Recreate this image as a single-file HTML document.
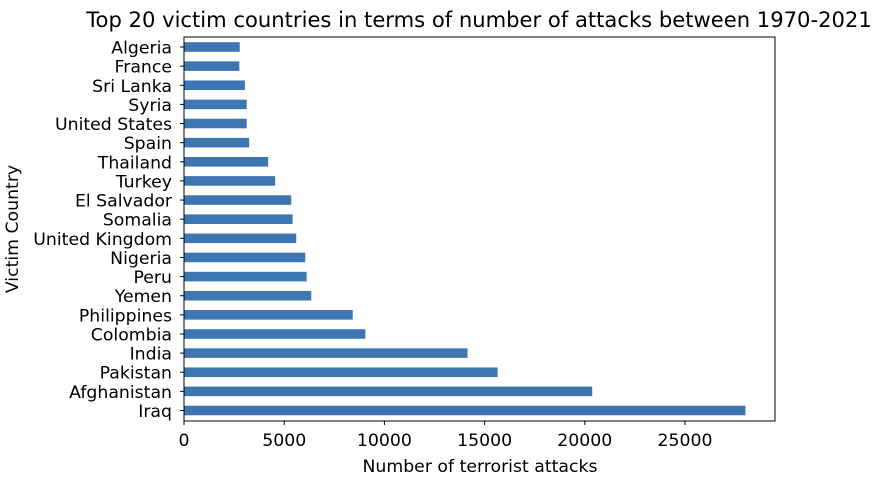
<!DOCTYPE html>
<html><head><meta charset="utf-8"><style>
html,body{margin:0;padding:0;background:#fff;}
svg{display:block;font-family:"DejaVu Sans","Liberation Sans",sans-serif;}
</style></head><body>
<svg id="chart" width="877" height="480">
<text x="479" y="27" text-anchor="middle" font-size="21.1" fill="#000">Top 20 victim countries in terms of number of attacks between 1970-2021</text>
<g id="bars"></g>
<g id="xaxis"></g>
<g id="yaxis"></g>
<rect x="184" y="37" width="591" height="384" fill="none" stroke="#000" stroke-width="1"/>
<text x="480" y="472" text-anchor="middle" font-size="17.3">Number of terrorist attacks</text>
<text transform="translate(18 229) rotate(-90)" text-anchor="middle" font-size="17.3">Victim Country</text>
</svg>
<script>
const categories = ["Algeria","France","Sri Lanka","Syria","United States","Spain","Thailand","Turkey","El Salvador","Somalia","United Kingdom","Nigeria","Peru","Yemen","Philippines","Colombia","India","Pakistan","Afghanistan","Iraq"];
const values = [2780,2760,3040,3130,3130,3250,4200,4550,5350,5420,5600,6050,6120,6350,8420,9050,14150,15650,20370,28020];
const xTicks = [0,5000,10000,15000,20000,25000];
const NS="http://www.w3.org/2000/svg";
const x0=184, pxPer=100.2/5000;
const xs=v=>x0+v*pxPer;
const yTop=47, step=(410.5-47)/19;
const ys=i=>yTop+i*step;
const bh=step*0.5;
const bars=document.getElementById('bars'), xa=document.getElementById('xaxis'), ya=document.getElementById('yaxis');
categories.forEach((c,i)=>{
  const r=document.createElementNS(NS,'rect');
  r.setAttribute('x',x0);r.setAttribute('y',ys(i)-bh/2);
  r.setAttribute('width',xs(values[i])-x0);r.setAttribute('height',bh);
  r.setAttribute('fill','#3d76b1');
  
  
  bars.appendChild(r);
  const t=document.createElementNS(NS,'line');
  t.setAttribute('x1',x0-4);t.setAttribute('x2',x0);t.setAttribute('y1',ys(i));t.setAttribute('y2',ys(i));t.setAttribute('stroke','#000');
  
  
  ya.appendChild(t);
  const l=document.createElementNS(NS,'text');
  l.setAttribute('x',x0-12);l.setAttribute('y',ys(i)+6.5);
  l.setAttribute('text-anchor','end');l.setAttribute('font-size','17.3');
  l.textContent=c;
  
  
  ya.appendChild(l);
});
xTicks.forEach(v=>{
  const t=document.createElementNS(NS,'line');
  t.setAttribute('x1',xs(v));t.setAttribute('x2',xs(v));t.setAttribute('y1',421);t.setAttribute('y2',425);t.setAttribute('stroke','#000');
  
  
  xa.appendChild(t);
  const l=document.createElementNS(NS,'text');
  l.setAttribute('x',xs(v));l.setAttribute('y',446);
  l.setAttribute('text-anchor','middle');l.setAttribute('font-size','17.3');
  l.textContent=String(v);
  
  
  xa.appendChild(l);
});
</script>
</body></html>
